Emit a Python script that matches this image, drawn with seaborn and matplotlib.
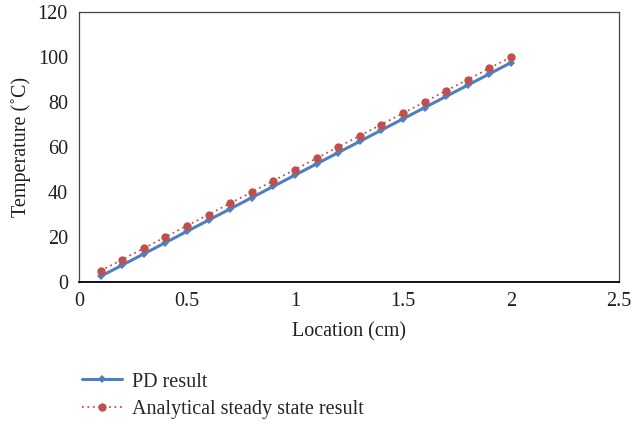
import matplotlib
matplotlib.use("Agg")
import matplotlib.pyplot as plt
import seaborn as sns
import pandas as pd

location = [0.1, 0.2, 0.3, 0.4, 0.5, 0.6, 0.7, 0.8, 0.9, 1.0,
            1.1, 1.2, 1.3, 1.4, 1.5, 1.6, 1.7, 1.8, 1.9, 2.0]
pd_result = [2.5, 7.5, 12.5, 17.5, 22.5, 27.5, 32.5, 37.5, 42.5, 47.5,
             52.5, 57.5, 62.5, 67.5, 72.5, 77.5, 82.5, 87.5, 92.5, 97.5]
analytical = [5, 10, 15, 20, 25, 30, 35, 40, 45, 50,
              55, 60, 65, 70, 75, 80, 85, 90, 95, 100]
x_ticks = [0, 0.5, 1, 1.5, 2, 2.5]
x_tick_labels = ["0", "0.5", "1", "1.5", "2", "2.5"]
y_ticks = [0, 20, 40, 60, 80, 100, 120]

sns.set_theme(style="white")
plt.rcParams['font.family'] = ['Liberation Serif', 'DejaVu Serif']

df = pd.DataFrame({"Location": location, "PD": pd_result, "Analytical": analytical})

fig = plt.figure(figsize=(6.32, 4.25), dpi=100)
ax = fig.add_axes([79/632, 1-282/425, (619-79)/632, (282-12)/425])

blue = "#4F7FBD"
red = "#C0504D"
sns.lineplot(data=df, x="Location", y="PD", ax=ax, color=blue, lw=2.2,
             marker="D", markersize=4, markeredgewidth=0, label="PD result")
sns.lineplot(data=df, x="Location", y="Analytical", ax=ax, color=red, lw=1.3,
             linestyle=(0, (1, 2)), marker="o", markersize=6, markeredgewidth=0,
             label="Analytical steady state result")

fs = 14.5
ax.set_xlim(0, 2.5)
ax.set_ylim(0, 120)
ax.set_xticks(x_ticks)
ax.set_xticklabels(x_tick_labels)
ax.set_yticks(y_ticks)
ax.tick_params(axis="both", labelsize=fs, length=0, colors="#231f20")
ax.tick_params(axis="y", pad=8)
ax.tick_params(axis="x", pad=7)
ax.set_xlabel("Location (cm)", fontsize=fs, color="#231f20", labelpad=8)
ax.set_ylabel("Temperature (˚C)", fontsize=fs, color="#231f20", labelpad=5)
for s in ax.spines.values():
    s.set_color("#444444")
    s.set_linewidth(0.9)
ax.spines["bottom"].set_color("#000000")
ax.spines["bottom"].set_linewidth(1.3)
ax.grid(False)

ax.legend(loc="upper left", bbox_to_anchor=(-0.01, -0.305), frameon=False,
          fontsize=fs, handlelength=2.0, labelspacing=0.4, handletextpad=0.5,
          borderaxespad=0)

fig.savefig("out.png", dpi=100)
